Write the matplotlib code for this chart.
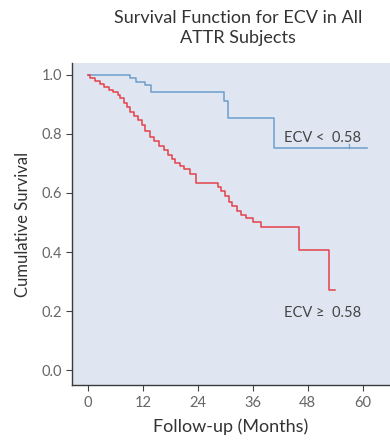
"""Kaplan-Meier survival curves for ECV groups."""

import matplotlib

matplotlib.use("Agg")
import matplotlib.pyplot as plt

# Low-ECV group: step times (months) and survival after each step
low_times = [0, 9.2, 10.5, 12.5, 13.8, 29.7, 30.5, 40.7]
low_surv = [1.0, 0.99, 0.975, 0.965, 0.94, 0.91, 0.855, 0.753]
low_end = 61.0
low_censor_t = [57.0]

# High-ECV group
high_times = [0, 0.5, 1.5, 2.5, 3.5, 4.5, 5.5, 6.5, 7.0, 7.8, 8.5, 9.2, 10.0,
              11.0, 11.8, 12.5, 13.5, 14.5, 15.5, 16.5, 17.4, 18.3, 19.0, 20.0,
              21.0, 22.2, 23.5, 28.3, 29.0, 30.0, 30.8, 31.5, 32.5, 33.5, 34.5,
              36.0, 37.8, 46.2, 52.7]
high_surv = [1.0, 0.99, 0.98, 0.97, 0.96, 0.95, 0.94, 0.93, 0.92, 0.905, 0.89,
             0.875, 0.86, 0.847, 0.83, 0.81, 0.79, 0.775, 0.76, 0.745, 0.73,
             0.715, 0.70, 0.69, 0.68, 0.665, 0.634, 0.62, 0.605, 0.59, 0.57,
             0.555, 0.54, 0.525, 0.515, 0.50, 0.485, 0.407, 0.27]
high_end = 54.0

x_ticks = [0, 12, 24, 36, 48, 60]
y_ticks = [0.0, 0.2, 0.4, 0.6, 0.8, 1.0]

FONT = ["Lato", "DejaVu Sans"]
TEXT_COLOR = "#444444"
TICK_COLOR = "#666666"


def km_step(ax, times, surv, end, color, censor=None):
    xs = list(times) + [end]
    ys = list(surv) + [surv[-1]]
    ax.step(xs, ys, where="post", color=color, linewidth=1.1)
    if censor:
        for t in censor:
            s = [v for tt, v in zip(times, surv) if tt <= t][-1]
            ax.plot([t, t], [s, s + 0.012], color=color, linewidth=0.9)


fig = plt.figure(figsize=(3.9, 4.4), dpi=100)
ax = fig.add_axes([0.185, 0.125, 0.815, 0.732])
ax.set_facecolor("#dfe6f1")

km_step(ax, low_times, low_surv, low_end, "#6d9dcc", low_censor_t)
km_step(ax, high_times, high_surv, high_end, "#e5414b")

ax.text(42.9, 0.786, "ECV <  0.58", fontsize=10.5, color=TEXT_COLOR,
        family=FONT, va="center")
ax.text(42.9, 0.193, "ECV \u2265  0.58", fontsize=10.5, color=TEXT_COLOR,
        family=FONT, va="center")

ax.set_xlim(-3.5, 66)
ax.set_ylim(-0.05, 1.04)
ax.set_xticks(x_ticks)
ax.set_yticks(y_ticks)
ax.set_yticklabels([f"{v:.1f}" for v in y_ticks])
ax.tick_params(colors="#444444", labelcolor=TICK_COLOR, labelsize=10.5,
               length=4, width=0.8, pad=3)
ax.tick_params(axis="x", pad=4)
for lab in ax.get_xticklabels() + ax.get_yticklabels():
    lab.set_family(FONT)

for side in ["top", "right"]:
    ax.spines[side].set_visible(False)
for side in ["left", "bottom"]:
    ax.spines[side].set_color("#3a3a3a")
    ax.spines[side].set_linewidth(1.0)

ax.set_xlabel("Follow-up (Months)", fontsize=13, color="#333333", family=FONT,
              labelpad=6)
ax.set_ylabel("Cumulative Survival", fontsize=12, color="#333333",
              family=FONT, labelpad=8)
fig.text(0.61, 0.978, "Survival Function for ECV in All\nATTR Subjects",
         ha="center", va="top", fontsize=13, color="#333333", family=FONT,
         linespacing=1.3)

fig.savefig("out.png", dpi=100)
